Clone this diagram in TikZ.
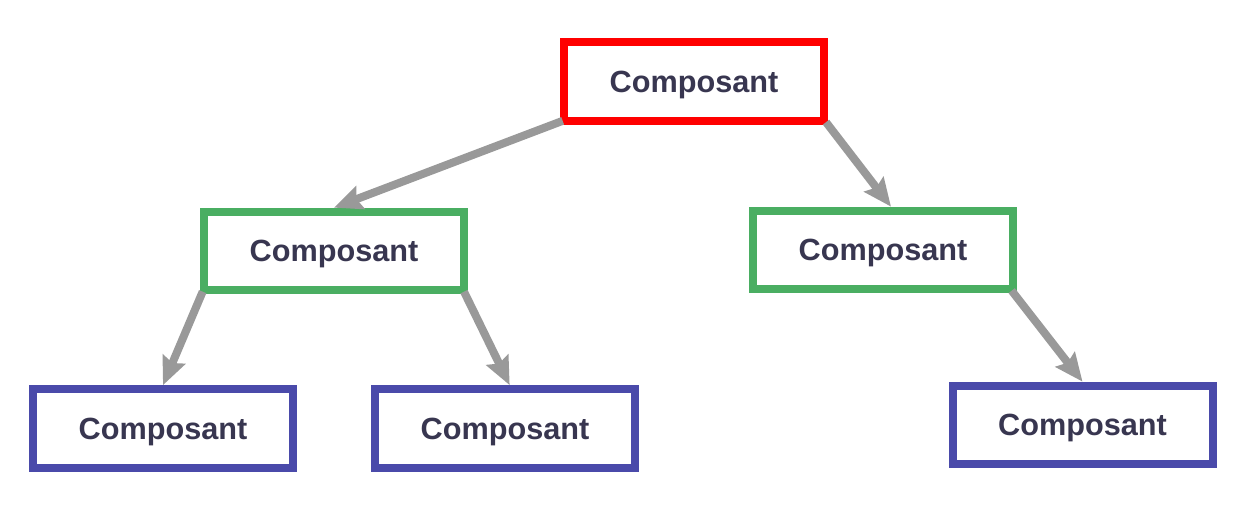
\documentclass[tikz,border=0pt]{standalone}
\usepackage{fontspec}
\setmainfont{Liberation Sans}
\usetikzlibrary{arrows.meta}
\definecolor{boxred}{RGB}{255,0,0}
\definecolor{boxgreen}{RGB}{74,174,98}
\definecolor{boxblue}{RGB}{74,74,170}
\definecolor{linkgray}{RGB}{153,153,153}
\definecolor{textdark}{RGB}{56,54,80}
\begin{document}
\begin{tikzpicture}[x=0.75pt,y=-0.75pt,>={Stealth[length=21pt,width=18pt,inset=3pt]}]
        \tikzstyle{comp}=[rectangle, line width=6pt, minimum width=195pt, minimum height=59pt, inner sep=0pt, text depth=0pt, fill=white, text=textdark, font=\fontsize{23}{27}\selectfont\bfseries]
        \tikzstyle{link}=[->, line width=6pt, draw=linkgray]
        \useasboundingbox (0,0) rectangle (1255,517);
        \node[comp,draw=boxred] (root) at (694,81.5) {Composant};
        \node[comp,draw=boxgreen] (left) at (334,251) {Composant};
        \node[comp,draw=boxgreen] (right) at (883,250) {Composant};
        \node[comp,draw=boxblue] (leafa) at (163,428.5) {Composant};
        \node[comp,draw=boxblue] (leafb) at (505,428.5) {Composant};
        \node[comp,draw=boxblue] (leafc) at (1082.5,425) {Composant};
        \draw[link] ([xshift=2pt,yshift=3pt]root.south west) -- (left.north);
        \draw[link] ([xshift=-1.5pt,yshift=2pt]root.south east) -- ([xshift=6pt]right.north);
        \draw[link] ([xshift=2pt,yshift=2pt]left.south west) -- (leafa.north);
        \draw[link] ([xshift=-3pt,yshift=2pt]left.south east) -- ([xshift=3.5pt]leafb.north);
        \draw[link] ([xshift=-4pt,yshift=2pt]right.south east) -- (leafc.north);
    \end{tikzpicture}
\end{document}
